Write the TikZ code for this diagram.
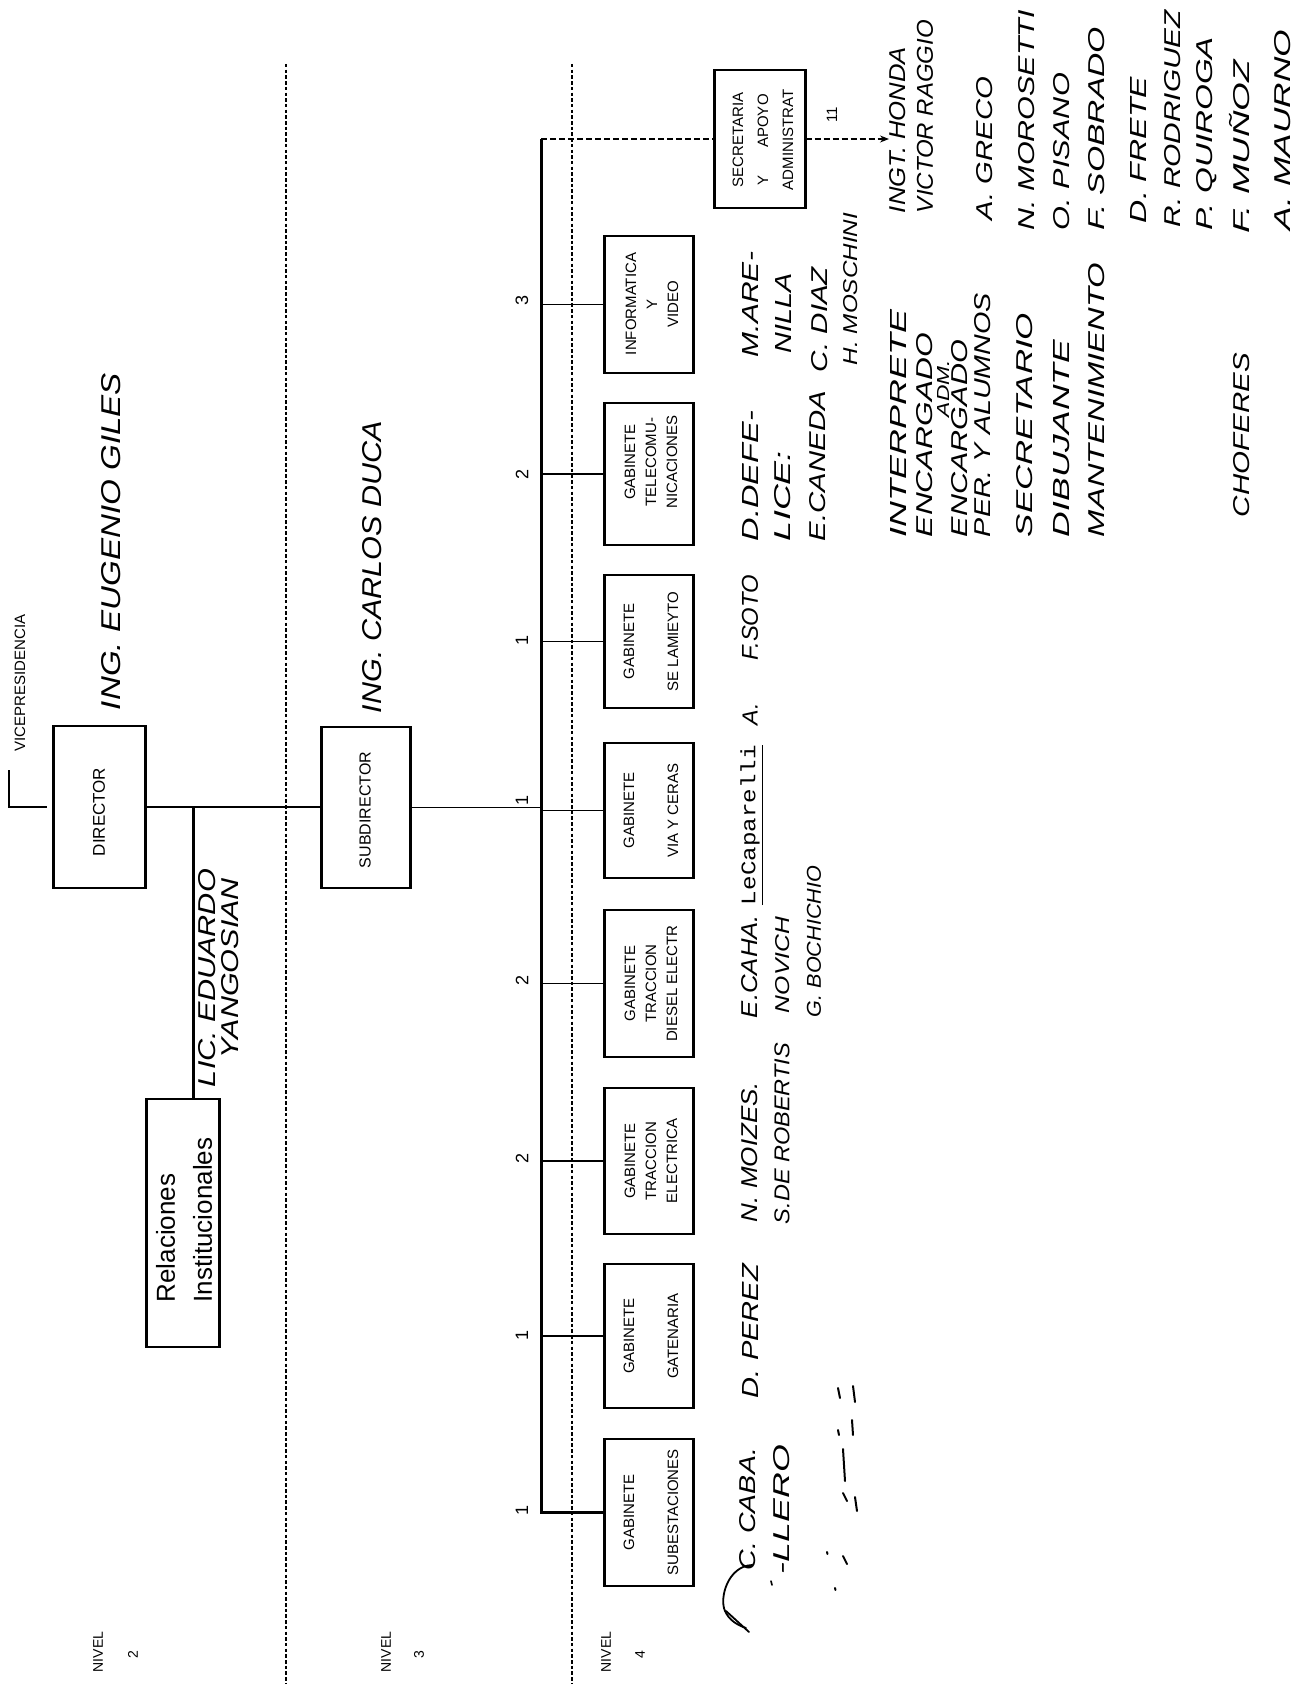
\documentclass[tikz,border=0pt]{standalone}
\usepackage{graphicx}
\usepackage{fontspec}
\setmainfont{Liberation Sans}
\newfontfamily\typefont{Liberation Mono}
\usetikzlibrary{arrows.meta}
\newcommand{\HW}[3]{\resizebox{#1pt}{#2pt}{\itshape #3}}
\newcommand{\hwn}[6]{\node[hw] (#1) at (#2,#3) {\HW{#4}{#5}{#6}};}
\begin{document}
\begin{tikzpicture}[x=1pt,y=-1pt,
  hw/.style={rotate=90,inner sep=0pt},
  pr/.style={rotate=90,inner sep=0pt,align=center,font=\fontsize{15}{21}\selectfont},
  gbox/.style={draw,line width=1.4pt,inner sep=0pt,minimum width=88pt},
  boxside/.style={line width=3pt},
  conn/.style={line width=1.4pt},
  bus/.style={line width=3pt},
  levelsep/.style={line width=2.6pt,dash pattern=on 3.5pt off 2.2pt},
  thinlink/.style={line width=1.1pt,dash pattern=on 6pt off 3pt},
  digit/.style={rotate=90,inner sep=0pt,font=\fontsize{18}{18}\selectfont},
  nivel/.style={rotate=90,inner sep=0pt,font=\fontsize{14}{14}\selectfont},
  scrib/.style={line width=2pt,line cap=round}
]
\useasboundingbox (0,0) rectangle (1310,1686);
\fill[white] (0,0) rectangle (1310,1686);

% level separators
\coordinate (s1t) at (286,64); \coordinate (s1b) at (286,1683);
\coordinate (s2t) at (572,64); \coordinate (s2b) at (572,1683);
\draw[levelsep] (s1t) -- (s1b);
\draw[levelsep] (s2t) -- (s2b);

% boxes
\node[gbox,minimum height=137pt] (inf) at (649,304.5) {};
\node[gbox,minimum height=142pt] (tel) at (649,474) {};
\node[gbox,minimum height=133pt] (sel) at (649,641.5) {};
\node[gbox,minimum height=135pt] (via) at (649,810.5) {};
\node[gbox,minimum height=147pt] (die) at (649,983.5) {};
\node[gbox,minimum height=146pt] (tre) at (649,1161) {};
\node[gbox,minimum height=144pt] (cat) at (649,1336) {};
\node[gbox,minimum height=147pt] (sbe) at (649,1512.5) {};
\node[gbox,minimum width=90pt,minimum height=138pt] (sec) at (760,139) {};
\node[gbox,minimum width=91pt,minimum height=162pt] (dir) at (99.5,807) {};
\node[gbox,minimum width=88pt,minimum height=161pt] (sdr) at (366,807.5) {};
\node[gbox,minimum width=72pt,minimum height=248pt] (rel) at (183,1223) {};
\foreach \bx in {inf,tel,sel,via,die,tre,cat,sbe,sec,dir,sdr,rel}{
  \draw[boxside] (\bx.north west) -- (\bx.south west) (\bx.north east) -- (\bx.south east);
}

% box texts
\node[pr] (inft) at (652,304) {INFORMATICA\\Y\\VIDEO};
\node[pr] (telt) at (651,462) {GABINETE\\TELECOMU-\\NICACIONES};
\node[pr] (selt) at (651,641.5) {GABINETE\\[23pt]SE LAMIEYTO};
\node[pr] (viat) at (651,810.5) {GABINETE\\[23pt]VIA Y CERAS};
\node[pr] (diet) at (651,983.5) {GABINETE\\TRACCION\\DIESEL ELECTR};
\node[pr] (tret) at (651,1161) {GABINETE\\TRACCION\\ELECTRICA};
\node[pr] (catt) at (651,1336) {GABINETE\\[23pt]GATENARIA};
\node[pr] (sbet) at (651,1512.5) {GABINETE\\[23pt]SUBESTACIONES};
\node[pr,font=\fontsize{15}{25}\selectfont] (sect) at (763,140) {SECRETARIA\\Y\hspace{28pt}APOYO\\ADMINISTRAT};
\node[rotate=90,inner sep=0pt,font=\fontsize{17}{17}\selectfont] (dirt) at (99,812) {DIRECTOR};
\node[rotate=90,inner sep=0pt,font=\fontsize{16}{16}\selectfont] (sdrt) at (365,810) {SUBDIRECTOR};
\node[rotate=90,inner sep=0pt,align=left,font=\fontsize{26}{37}\selectfont] (relt) at (184,1220) {Relaciones\\Institucionales};
\node[rotate=90,inner sep=0pt,font=\fontsize{15}{15}\selectfont] (vpt) at (20,683) {VICEPRESIDENCIA};

% connectors
\coordinate (bt) at (541,139);
\coordinate (bb) at (541,1512.5);
\draw[bus] (bt) -- (bb) -- (sbe.west);
\foreach \bx in {inf,tel,sel,via,die,tre,cat}{
  \draw[conn] (\bx.west) -- (\bx.west -| bt);
}
\draw[conn] (sdr.east) -- (sdr.east -| bt);
\draw[conn] (dir.east) -- (dir.east -| sdr.west);
\coordinate (rj) at (193,807);
\draw[line width=3pt] (rj) -- (rj |- rel.north);
\draw[thinlink] (bt) -- (sec.west);
\coordinate (hon) at (889,139);
\draw[thinlink,-{Stealth[length=9pt,width=7pt]}] (sec.east) -- (hon);
\node[rotate=90,inner sep=0pt,font=\fontsize{15}{15}\selectfont] (n11) at (832,115) {11};
\coordinate (vp) at (9,770);
\coordinate (vpe) at (47,807);
\draw[line width=2.5pt] (vp) |- (vpe);

% bus numbers
\node[digit] (k1) at (522,300) {3};
\node[digit] (k2) at (522,474) {2};
\node[digit] (k3) at (522,640) {1};
\node[digit] (k4) at (522,800) {1};
\node[digit] (k5) at (522,980) {2};
\node[digit] (k6) at (522,1158) {2};
\node[digit] (k7) at (522,1335) {1};
\node[digit] (k8) at (522,1510) {1};

% level labels
\node[nivel] (nv2) at (98,1652) {NIVEL};
\node[nivel] (nn2) at (133,1655) {2};
\node[nivel] (nv3) at (386,1652) {NIVEL};
\node[nivel] (nn3) at (419,1655) {3};
\node[nivel] (nv4) at (606,1652) {NIVEL};
\node[nivel] (nn4) at (640,1655) {4};

% handwritten names
\hwn{geg}{111}{541.5}{337}{19}{ING. EUGENIO GILES}
\hwn{gcd}{372}{567}{292}{19}{ING. CARLOS DUCA}
\hwn{gle}{207}{978}{218}{17}{LIC. EDUARDO}
\hwn{gya}{230}{968}{180}{17}{YANGOSIAN}
\hwn{mar}{750}{304.5}{105}{16}{M.ARE-}
\hwn{nil}{783}{313}{80}{16}{NILLA}
\hwn{cdi}{820}{319.5}{105}{16}{C. DIAZ}
\hwn{hmo}{851}{289}{152}{14}{H. MOSCHINI}
\hwn{dde}{750}{476}{130}{16}{D.DEFE-}
\hwn{lic}{783}{496}{90}{16}{LICE:}
\hwn{eca}{818}{466}{150}{16}{E.CANEDA}
\hwn{fso}{750}{617.5}{85}{16}{F.SOTO}
\hwn{ech}{750}{966.5}{103}{16}{E.CAHA.}
\node[hw] (lec) at (752,825) {\resizebox{160pt}{15pt}{\typefont\underline{LeCaparelli}}};
\hwn{aaa}{750}{714}{22}{15}{A.}
\hwn{nov}{783}{965}{96}{14}{NOVICH}
\hwn{gbo}{814}{941.5}{151}{14}{G. BOCHICHIO}
\hwn{nmo}{750}{1152}{140}{16}{N. MOIZES.}
\hwn{sro}{782}{1133.5}{181}{15}{S.DE ROBERTIS}
\hwn{dpe}{750}{1331}{134}{16}{D. PEREZ}
\hwn{cca}{748}{1509}{122}{16}{C. CABA.}
\hwn{lle}{782}{1509.5}{129}{16}{-LLERO}

% right-hand list
\hwn{r1}{898}{423.5}{227}{16}{INTERPRETE}
\hwn{r2}{925}{435}{204}{16}{ENCARGADO}
\hwn{r3}{943}{388.5}{57}{12}{ADM.}
\hwn{r4}{960}{438.5}{197}{16}{ENCARGADO}
\hwn{r5}{983}{415}{244}{16}{PER. Y ALUMNOS}
\hwn{r6}{1025}{425}{224}{16}{SECRETARIO}
\hwn{r7}{1062}{438.5}{197}{16}{DIBUJANTE}
\hwn{r8}{1097}{400}{274}{16}{MANTENIMIENTO}
\hwn{r9}{1242}{435}{164}{16}{CHOFERES}
\hwn{p1}{898}{130}{166}{16}{INGT. HONDA}
\hwn{p2}{925}{116.5}{193}{16}{VICTOR RAGGIO}
\hwn{p3}{985}{148.5}{143}{16}{A. GRECO}
\hwn{p4}{1027}{120}{220}{16}{N. MOROSETTI}
\hwn{p5}{1062}{151.5}{157}{16}{O. PISANO}
\hwn{p6}{1097}{128.5}{203}{16}{F. SOBRADO}
\hwn{p7}{1138}{150}{146}{16}{D. FRETE}
\hwn{p8}{1173}{118.5}{217}{16}{R. RODRIGUEZ}
\hwn{p9}{1207}{133.5}{193}{16}{P. QUIROGA}
\hwn{p10}{1242}{146.5}{173}{16}{F. MU\smash{Ñ}OZ}
\hwn{p11}{1283}{130}{200}{16}{A. MAURNO}

% signature scribble and marks
\draw[line width=1.8pt,line cap=round] (752,1565) .. controls (728,1566) and (719,1598) .. (725,1611) .. controls (729,1620) and (737,1625) .. (746,1628);
\draw[line width=1.8pt,line cap=round] (726,1611) -- (749,1632);
\draw[line width=1.6pt,line cap=round] (771,1581) -- (772,1585);
\draw[scrib] (838,1388) -- (840,1398);
\draw[scrib] (853,1386) -- (855,1402);
\draw[scrib] (838,1430) -- (839,1435);
\draw[scrib] (852,1420) -- (853,1435);
\draw[scrib] (843,1449) -- (845,1481);
\draw[scrib] (843,1493) -- (847,1501);
\draw[scrib] (855,1497) -- (857,1511);
\draw[scrib] (827,1552) -- (827.5,1554);
\draw[scrib] (843,1556) -- (847,1564);
\draw[scrib] (835,1588) -- (835.5,1590);
\end{tikzpicture}
\end{document}
